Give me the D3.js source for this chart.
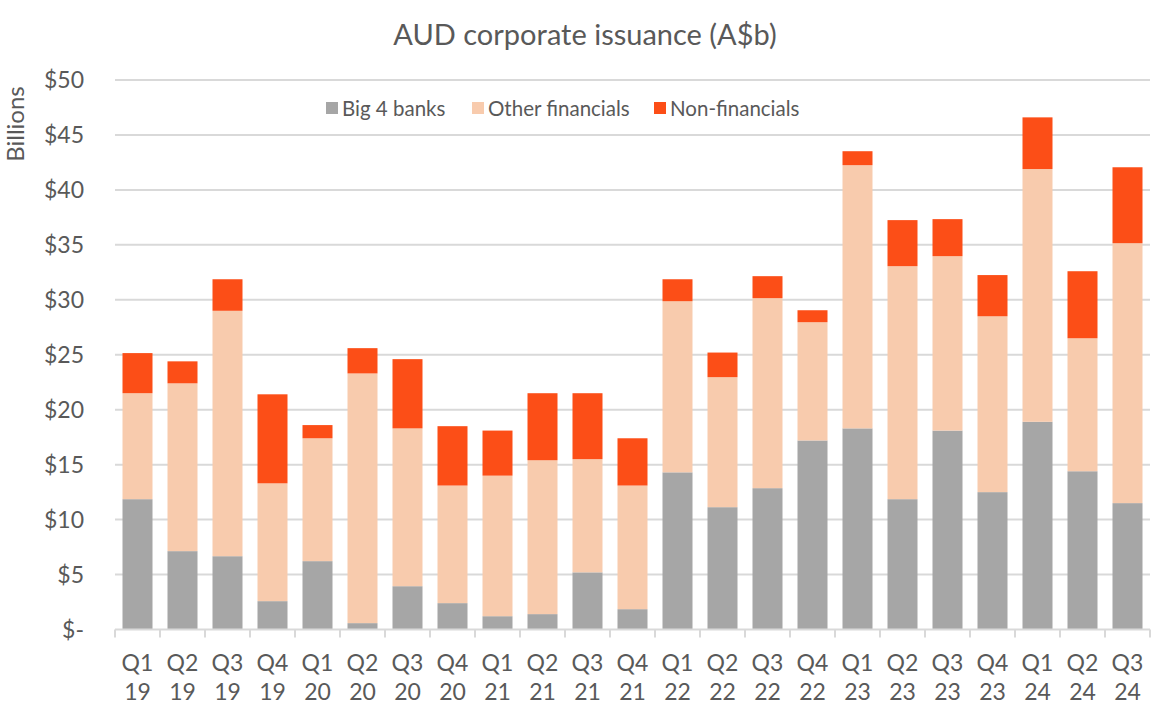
<!DOCTYPE html>
<html><head><meta charset="utf-8">
<script src="https://cdn.jsdelivr.net/npm/d3@7"></script>
<style>body{margin:0;background:#fff}svg{display:block}text{font-family:Lato,"Noto Sans",sans-serif;fill:#595959}</style>
</head><body><svg id="c" width="1172" height="709"></svg>
<script>
const quarters = ["Q1 19","Q2 19","Q3 19","Q4 19","Q1 20","Q2 20","Q3 20","Q4 20","Q1 21","Q2 21","Q3 21","Q4 21","Q1 22","Q2 22","Q3 22","Q4 22","Q1 23","Q2 23","Q3 23","Q4 23","Q1 24","Q2 24","Q3 24"];
const big4 = [11.86,7.13,6.67,2.58,6.22,0.58,3.94,2.4,1.21,1.4,5.2,1.85,14.3,11.13,12.86,17.2,18.3,11.86,18.1,12.5,18.9,14.4,11.5];
const otherFin = [9.64,15.27,22.33,10.72,11.18,22.72,14.36,10.7,12.79,14.0,10.3,11.25,15.57,11.83,17.29,10.76,23.95,21.2,15.87,16.0,23.0,12.1,23.65];
const nonFin = [3.65,2.0,2.87,8.1,1.2,2.3,6.3,5.4,4.1,6.1,6.0,4.3,2.0,2.24,2.0,1.09,1.27,4.19,3.37,3.75,4.7,6.1,6.91];
const seriesNames = ["Big 4 banks","Other financials","Non-financials"];
const colors = ["#A6A6A6","#F8CBAD","#FC4E17"];
const yTicks = [0,5,10,15,20,25,30,35,40,45,50];

const svg = d3.select("#c");
const x = d3.scaleBand().domain(quarters).range([115,1150]).paddingInner(1/3).paddingOuter(1/6);
const y = d3.scaleLinear().domain([0,50]).range([629.5,80]);

// gridlines
svg.append("g").selectAll("line").data(yTicks.filter(d=>d>0)).join("line")
  .attr("x1",115).attr("x2",1150).attr("y1",d=>y(d)).attr("y2",d=>y(d))
  .attr("stroke","#D9D9D9").attr("stroke-width",2);

// stacks
const rows = quarters.map((q,i)=>({q, "Big 4 banks":big4[i], "Other financials":otherFin[i], "Non-financials":nonFin[i]}));
const stack = d3.stack().keys(seriesNames)(rows);
svg.append("g").selectAll("g").data(stack).join("g").attr("fill",(d,i)=>colors[i])
  .selectAll("rect").data(d=>d).join("rect")
  .attr("x",d=>x(d.data.q)).attr("width",x.bandwidth())
  .attr("y",d=>y(d[1])).attr("height",d=>y(d[0])-y(d[1]));

// x axis
const xa = svg.append("g").attr("transform",`translate(0,${y(0)})`);
xa.append("line").attr("x1",115).attr("x2",1150).attr("stroke","#D9D9D9").attr("stroke-width",2);
const step = x.step();
const edges = d3.range(quarters.length+1).map(i=>115+i*step);
xa.selectAll("line.t").data(edges).join("line").attr("class","t")
  .attr("x1",d=>d).attr("x2",d=>d).attr("y1",0).attr("y2",8).attr("stroke","#D9D9D9").attr("stroke-width",2);
const xl = xa.selectAll("text").data(quarters).join("text")
  .attr("text-anchor","middle").attr("font-size",23)
  .attr("x",d=>x(d)+x.bandwidth()/2);
xl.append("tspan").attr("x",d=>x(d)+x.bandwidth()/2).attr("y",41).text(d=>d.split(" ")[0]);
xl.append("tspan").attr("x",d=>x(d)+x.bandwidth()/2).attr("y",70).text(d=>d.split(" ")[1]);

// y axis labels
svg.append("g").selectAll("text").data(yTicks).join("text")
  .attr("x",84).attr("y",d=>y(d)+8).attr("text-anchor","end").attr("font-size",23)
  .text(d=>d===0?"$-":"$"+d);
svg.append("text").attr("transform","translate(24,124) rotate(-90)").attr("text-anchor","middle")
  .attr("font-size",24).text("Billions");

// title
svg.append("text").attr("x",585).attr("y",45).attr("text-anchor","middle").attr("font-size",29).text("AUD corporate issuance (A$b)");

// legend
const legX = [326,472,654];
const lg = svg.append("g").selectAll("g").data(seriesNames).join("g")
  .attr("transform",(d,i)=>`translate(${legX[i]},102)`);
lg.append("rect").attr("width",12).attr("height",12).attr("fill",(d,i)=>colors[i]);
lg.append("text").attr("x",16).attr("y",14).attr("font-size",20.5).text(d=>d);
</script></body></html>
